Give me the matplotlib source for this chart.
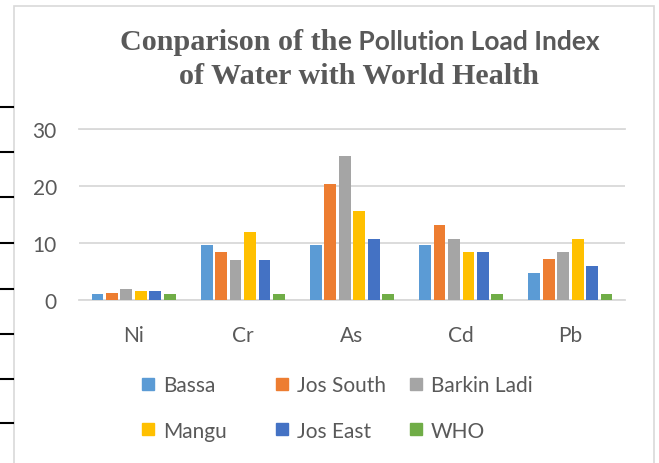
import numpy as np
import matplotlib.pyplot as plt
from matplotlib.patches import Rectangle
from matplotlib.lines import Line2D

metals = ["Ni", "Cr", "As", "Cd", "Pb"]
bassa = [1.1, 9.6, 9.6, 9.6, 4.7]
jos_south = [1.2, 8.4, 20.4, 13.2, 7.2]
barkin_ladi = [1.9, 7.1, 25.2, 10.7, 8.4]
mangu = [1.6, 12.0, 15.6, 8.4, 10.7]
jos_east = [1.6, 7.1, 10.7, 8.4, 5.9]
who = [1.0, 1.0, 1.0, 1.0, 1.0]

series = ["Bassa", "Jos South", "Barkin Ladi", "Mangu", "Jos East", "WHO"]
values = [bassa, jos_south, barkin_ladi, mangu, jos_east, who]
colors = ["#5B9BD5", "#ED7D31", "#A5A5A5", "#FFC000", "#4472C4", "#70AD47"]

W, H = 659, 464
grey = "#595959"
fig = plt.figure(figsize=(W / 100, H / 100), dpi=100)

# outer chart frame and the table ticks on the left
fig.add_artist(Rectangle((14 / W, -0.05), 640 / W, 1.05 - 7 / H, fill=False,
                         ec="#d9d9d9", lw=1.2, transform=fig.transFigure))
for yy in [108, 153, 198, 244, 290, 335, 380, 424]:
    fig.add_artist(Line2D([0, 13 / W], [1 - yy / H] * 2, color="black", lw=1.5))

ax = fig.add_axes([79 / W, 1 - 301 / H, 546 / W, 171 / H])
x = np.arange(len(metals))
step = 0.132
for i, (vals, c) in enumerate(zip(values, colors)):
    ax.bar(x + (i - 2.5) * step, vals, width=0.108, color=c, label=series[i], zorder=3)

ax.set_xlim(-0.5, len(metals) - 0.5)
ax.set_ylim(0, 30)
ax.set_yticks([0, 10, 20, 30])
ax.set_xticks(x)
ax.set_xticklabels(metals)
ax.yaxis.grid(True, color="#d9d9d9", lw=1.3)
ax.set_axisbelow(True)
for s in ["left", "right"]:
    ax.spines[s].set_visible(False)
for s in ["top", "bottom"]:
    ax.spines[s].set_color("#d9d9d9")
    ax.spines[s].set_linewidth(1.3)
ax.tick_params(length=0, labelsize=15, labelcolor=grey)
ax.tick_params(axis="y", pad=16)
ax.tick_params(axis="x", pad=18)
for lab in ax.get_xticklabels() + ax.get_yticklabels():
    lab.set_family("Lato")

# legend: three columns, rows filled left to right
handles = [Rectangle((0, 0), 1, 1, color=c) for c in colors]
for j, xpos in enumerate([142, 276, 410]):
    fig.legend(handles=[handles[j], handles[j + 3]], labels=[series[j], series[j + 3]],
               loc="center left", bbox_to_anchor=(xpos / W, 1 - 409 / H),
               frameon=False, handlelength=0.56, handleheight=0.56, handletextpad=0.45,
               labelspacing=1.2, borderpad=0, borderaxespad=0,
               prop={"family": "Lato", "size": 15}, labelcolor=grey)

# title with mixed fonts
renderer = fig.canvas.get_renderer()
serif = dict(family="Liberation Serif", weight="bold", size=21.7, color=grey)
sans = dict(family="Lato", weight="bold", size=19, color=grey)


def title_line(parts, cx, ybase):
    texts = [fig.text(0, 1 - ybase / H, s, va="baseline", ha="left", **st) for s, st in parts]
    widths = [t.get_window_extent(renderer).width for t in texts]
    xpos = cx - sum(widths) / 2
    for t, w in zip(texts, widths):
        t.set_x(xpos / W)
        xpos += w


title_line([("Conparison of th", serif), ("e Pollution Load Index", sans)], 360, 50)
title_line([("of Water with World Health", serif)], 359, 84)

fig.savefig("out.png", dpi=100)
